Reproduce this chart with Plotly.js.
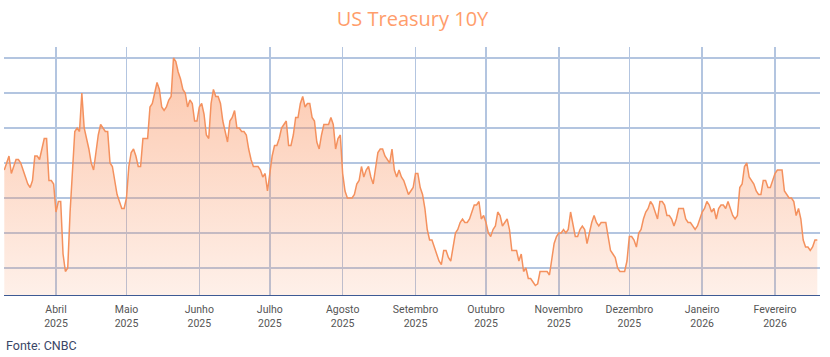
<!DOCTYPE html>
<html>
<head>
<meta charset="utf-8">
<script src="https://cdn.plot.ly/plotly-3.0.1.min.js"></script>
<style>html,body{margin:0;padding:0;background:#fff;}#chart{width:830px;height:357px;}</style>
</head>
<body>
<div id="chart"></div>
<script>
// US Treasury 10Y yield (%), daily values, by month
const monthStarts = ["2025-03-10","2025-04-01","2025-05-01","2025-06-01","2025-07-01","2025-08-01","2025-09-01","2025-10-01","2025-11-01","2025-12-01","2026-01-01","2026-02-01"];
const yMar2025 = [4.28,4.30,4.32,4.27,4.29,4.31,4.31,4.30,4.28,4.26,4.24,4.23,4.25,4.32,4.32,4.31,4.34,4.37,4.37,4.25,4.25,4.24];
const yApr2025 = [4.16,4.19,4.19,4.04,3.99,4.00,4.16,4.29,4.39,4.40,4.39,4.50,4.40,4.37,4.34,4.30,4.28,4.33,4.38,4.41,4.40,4.39,4.39,4.30,4.29,4.25,4.21,4.19,4.17,4.17];
const yMay2025 = [4.20,4.29,4.33,4.34,4.32,4.29,4.29,4.37,4.37,4.37,4.46,4.47,4.50,4.53,4.51,4.46,4.45,4.46,4.48,4.49,4.60,4.59,4.56,4.54,4.51,4.50,4.46,4.48,4.47,4.42,4.42];
const yJun2025 = [4.46,4.47,4.44,4.38,4.37,4.47,4.51,4.49,4.49,4.47,4.42,4.39,4.36,4.42,4.43,4.45,4.40,4.40,4.39,4.39,4.38,4.34,4.31,4.29,4.29,4.29,4.28,4.26,4.27,4.22];
const yJul2025 = [4.27,4.32,4.35,4.35,4.37,4.40,4.41,4.42,4.35,4.35,4.38,4.43,4.43,4.47,4.49,4.46,4.47,4.47,4.43,4.42,4.36,4.34,4.38,4.41,4.41,4.41,4.43,4.41,4.34,4.37,4.38];
const yAug2025 = [4.27,4.22,4.20,4.20,4.20,4.21,4.24,4.25,4.29,4.26,4.28,4.29,4.26,4.24,4.28,4.33,4.34,4.34,4.32,4.31,4.30,4.34,4.28,4.26,4.28,4.26,4.25,4.23,4.21,4.22,4.23];
const ySep2025 = [4.27,4.27,4.23,4.21,4.17,4.11,4.08,4.08,4.06,4.04,4.02,4.01,4.05,4.05,4.03,4.02,4.06,4.10,4.11,4.13,4.14,4.13,4.13,4.14,4.16,4.18,4.18,4.19,4.14,4.15];
const yOct2025 = [4.13,4.10,4.09,4.11,4.12,4.16,4.15,4.12,4.13,4.14,4.11,4.05,4.05,4.05,4.02,4.04,3.99,4.00,3.97,3.97,3.96,3.95,3.955,3.99,3.99,3.99,3.99,3.98,4.02,4.07,4.09];
const yNov2025 = [4.10,4.10,4.11,4.10,4.11,4.16,4.12,4.09,4.09,4.11,4.12,4.11,4.07,4.10,4.13,4.15,4.13,4.12,4.13,4.13,4.13,4.09,4.05,4.04,4.03,4.00,3.99,3.99,3.99,4.02];
const yDec2025 = [4.09,4.09,4.08,4.06,4.10,4.11,4.14,4.16,4.17,4.19,4.18,4.16,4.14,4.19,4.19,4.18,4.15,4.15,4.14,4.12,4.14,4.17,4.17,4.17,4.14,4.13,4.13,4.12,4.11,4.12,4.14];
const yJan2026 = [4.16,4.17,4.19,4.18,4.16,4.17,4.14,4.17,4.18,4.18,4.17,4.19,4.17,4.15,4.14,4.15,4.23,4.24,4.29,4.30,4.26,4.25,4.24,4.22,4.21,4.21,4.25,4.25,4.23,4.23,4.25];
const yFeb2026 = [4.27,4.28,4.28,4.28,4.22,4.21,4.20,4.20,4.19,4.15,4.17,4.14,4.08,4.06,4.06,4.05,4.06,4.08,4.08];
const monthlyValues = [yMar2025,yApr2025,yMay2025,yJun2025,yJul2025,yAug2025,ySep2025,yOct2025,yNov2025,yDec2025,yJan2026,yFeb2026];

const tickDates = ["2025-04-01","2025-05-01","2025-06-01","2025-07-01","2025-08-01","2025-09-01","2025-10-01","2025-11-01","2025-12-01","2026-01-01","2026-02-01"];
const tickMonths = ["Abril","Maio","Junho","Julho","Agosto","Setembro","Outubro","Novembro","Dezembro","Janeiro","Fevereiro"];
const tickYears = ["2025","2025","2025","2025","2025","2025","2025","2025","2025","2026","2026"];

// build date/value lists (one value per calendar day of each month block)
const dates = [], yields = [];
monthStarts.forEach((start, m) => {
  const [yy, mm, dd] = start.split("-").map(Number);
  monthlyValues[m].forEach((v, k) => {
    const day = dd + k;
    dates.push(yy + "-" + String(mm).padStart(2, "0") + "-" + String(day).padStart(2, "0"));
    yields.push(v);
  });
});

const trace = {
  x: dates, y: yields, type: "scatter", mode: "lines",
  line: {color: "#f4915e", width: 1.5, shape: "linear"},
  fill: "tozeroy",
  fillgradient: {type: "vertical", start: 3.92, stop: 4.63,
    colorscale: [[0, "rgba(250,150,100,0.14)"], [1, "rgba(250,150,100,0.55)"]]},
  hoverinfo: "x+y"
};
// invisible helper trace to carry the year tick row
const yearTrace = {x: [tickDates[0]], y: [4.3], xaxis: "x2", yaxis: "y", mode: "markers",
  marker: {opacity: 0}, hoverinfo: "skip", showlegend: false};

const xRange = ["2025-03-09 21:00", "2026-02-20 03:30"];
const tickFont = {family: "Roboto, sans-serif", size: 10.5, color: "#555555"};

const layout = {
  width: 830, height: 357,
  margin: {l: 4, r: 10, t: 47, b: 62},
  paper_bgcolor: "#ffffff", plot_bgcolor: "#ffffff",
  showlegend: false,
  title: {text: "US Treasury 10Y", x: 0.497, xanchor: "center", y: 0.947, yref: "container", yanchor: "middle",
    font: {family: "Open Sans, sans-serif", size: 20, color: "#ff9d6b"}},
  xaxis: {
    type: "date", range: xRange,
    tickmode: "array", tickvals: tickDates, ticktext: tickMonths,
    showgrid: true, gridcolor: "#b3c5e0", gridwidth: 1.5,
    showline: true, linecolor: "#3d5a94", linewidth: 1.2,
    ticks: "", ticklabelstandoff: 4, tickfont: tickFont,
    zeroline: false, fixedrange: true
  },
  xaxis2: {
    type: "date", range: xRange, overlaying: "x", anchor: "y", side: "bottom",
    tickmode: "array", tickvals: tickDates, ticktext: tickYears,
    showgrid: false, showline: false, zeroline: false,
    ticks: "", ticklabelstandoff: 20, tickfont: tickFont, fixedrange: true
  },
  yaxis: {
    range: [3.9229, 4.6314], tickmode: "linear", tick0: 4.0, dtick: 0.1,
    showticklabels: false, ticks: "",
    showgrid: true, gridcolor: "#b3c5e0", gridwidth: 1.5,
    zeroline: false, showline: false, fixedrange: true
  },
  annotations: [{
    text: "Fonte: CNBC", xref: "paper", yref: "paper", x: 0, xanchor: "left",
    y: -0.2, yanchor: "middle", yshift: -1, showarrow: false,
    font: {family: "Roboto, sans-serif", size: 12.5, color: "#3a4666"}
  }]
};

Plotly.newPlot("chart", [trace, yearTrace], layout, {displayModeBar: false, staticPlot: true});
</script>
</body>
</html>
